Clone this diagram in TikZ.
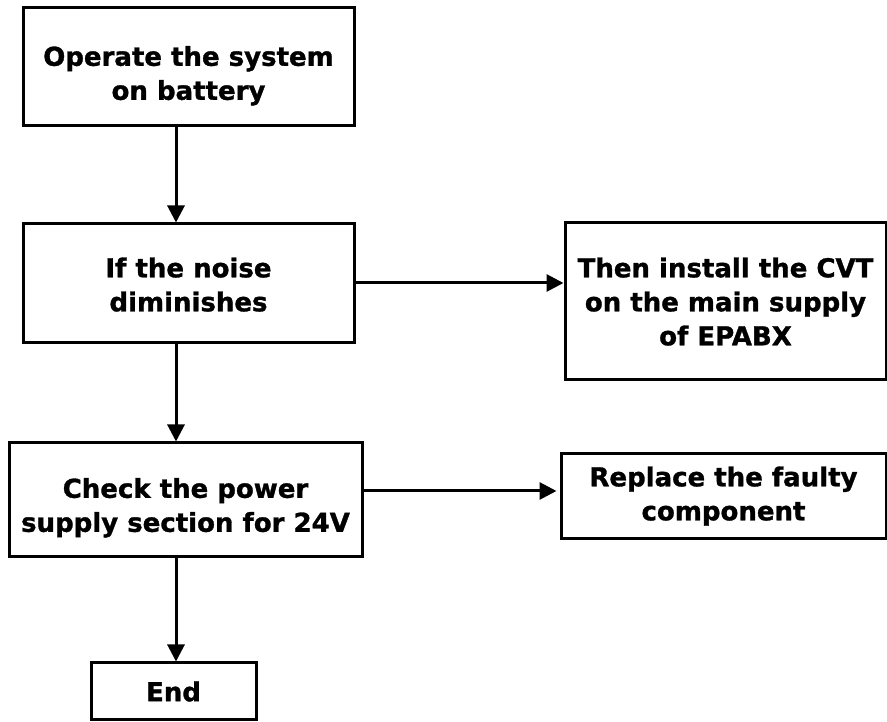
\documentclass[tikz,border=0pt]{standalone}
\usepackage{fontspec}
\setmainfont{DejaVu Sans}[BoldFont={DejaVu Sans Bold}, BoldFeatures={FakeBold=1.2}]
\usetikzlibrary{arrows.meta}
% centred block of lines, lowered by #1 inside its box
\newcommand{\boxtext}[2]{\raisebox{#1}[\height][\depth]{\begin{tabular}{@{}c@{}}#2\end{tabular}}}
\tikzset{
  stepbox/.style={draw=black, line width=3pt, align=center, inner sep=0pt,
    font=\fontsize{26}{34}\selectfont\bfseries},
  flow/.style={line width=3pt, -{Triangle[length=17pt,width=17pt]}}
}
\begin{document}
\begin{tikzpicture}[x=1pt,y=1pt]
\useasboundingbox (0,0) rectangle (887,722);
% process boxes
\node[stepbox, minimum width=331pt, minimum height=118pt] (b1) at (188.5,655)
  {\boxtext{-9pt}{Operate the system\\on battery}};
\node[stepbox, minimum width=331pt, minimum height=119pt] (b2) at (188.5,438.5)
  {\boxtext{-4pt}{If the noise\\diminishes}};
\node[stepbox, minimum width=321pt, minimum height=157pt] (b3) at (725.5,420.5)
  {\boxtext{-3pt}{Then install the CVT\\on the main supply\\of EPABX}};
\node[stepbox, minimum width=353pt, minimum height=114pt] (b4) at (185.5,222)
  {\boxtext{-8pt}{Check the power\\supply section for 24V}};
\node[stepbox, minimum width=325pt, minimum height=85pt] (b5) at (723.5,225.5)
  {\boxtext{0pt}{Replace the faulty\\component}};
\node[stepbox, minimum width=165pt, minimum height=57pt] (b6) at (173.5,30.5)
  {End};
% guide coordinates for the connector lines
\coordinate (spine) at (176,0);
\coordinate (row2) at (0,439);
\coordinate (row4) at (0,231);
% connectors
\draw[flow] (b1.south -| spine) -- (b2.north -| spine);
\draw[flow] (b2.east |- row2) -- (b3.west |- row2);
\draw[flow] (b2.south -| spine) -- (b4.north -| spine);
\draw[flow] (b4.east |- row4) -- ([xshift=-3pt]b5.west |- row4);
\draw[flow] (b4.south -| spine) -- (b6.north -| spine);
\end{tikzpicture}
\end{document}
